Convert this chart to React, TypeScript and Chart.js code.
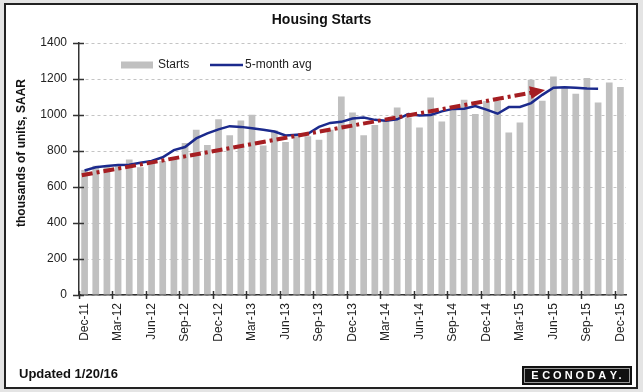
import React, { useEffect, useRef } from 'react';
import { Chart, registerables } from 'chart.js';

Chart.register(...registerables);

const months = [
  'Dec-11',
  'Jan-12', 'Feb-12', 'Mar-12', 'Apr-12', 'May-12', 'Jun-12', 'Jul-12', 'Aug-12', 'Sep-12', 'Oct-12', 'Nov-12', 'Dec-12',
  'Jan-13', 'Feb-13', 'Mar-13', 'Apr-13', 'May-13', 'Jun-13', 'Jul-13', 'Aug-13', 'Sep-13', 'Oct-13', 'Nov-13', 'Dec-13',
  'Jan-14', 'Feb-14', 'Mar-14', 'Apr-14', 'May-14', 'Jun-14', 'Jul-14', 'Aug-14', 'Sep-14', 'Oct-14', 'Nov-14', 'Dec-14',
  'Jan-15', 'Feb-15', 'Mar-15', 'Apr-15', 'May-15', 'Jun-15', 'Jul-15', 'Aug-15', 'Sep-15', 'Oct-15', 'Nov-15', 'Dec-15',
];

const starts = [
  695,
  718, 712, 718, 753, 710, 748, 745, 755, 845, 918, 834, 977,
  888, 970, 1001, 830, 915, 850, 885, 882, 862, 918, 1103, 1014,
  888, 945, 972, 1042, 986, 930, 1097, 964, 1029, 1085, 1005, 1078,
  1078, 903, 958, 1196, 1079, 1214, 1149, 1118, 1205, 1070, 1181, 1155,
];

const avg5: (number | null)[] = [
  692,
  710, 717, 722, 724, 735, 745, 765, 805, 822, 870, 898, 920,
  938, 934, 927, 918, 908, 886, 890, 895, 934, 956, 962, 980,
  986, 973, 968, 976, 1005, 997, 1000, 1020, 1034, 1035, 1050, 1030,
  1007, 1044, 1045, 1066, 1112, 1152, 1154, 1152, 1147, 1146, null, null,
];

// trend arrow: category index (fractional) and value at start and tip
const trendX = [-0.25, 41.25];
const trendY = [665, 1139];

const yTickValues = [0, 200, 400, 600, 800, 1000, 1200, 1400];

const titleText = 'Housing Starts';
const yTitleText = 'thousands of units, SAAR';
const updatedText = 'Updated 1/20/16';
const logoText = 'ECONODAY';
const legendLabels = ['Starts', '5-month avg'];

const FONT = '"Liberation Sans", Arial, sans-serif';
const BAR_COLOR = '#c0c0c0';
const LINE_COLOR = '#1b2a8d';
const TREND_COLOR = '#a51e22';
const AXIS_COLOR = '#333333';

const decorPlugin = {
  id: 'decor',
  beforeDraw(chart: any) {
    const ctx = chart.ctx;
    const W = chart.width;
    const H = chart.height;
    ctx.save();
    ctx.fillStyle = '#e4e4e4';
    ctx.fillRect(0, 0, W, H);
    ctx.fillStyle = '#ffffff';
    ctx.fillRect(5, 4, W - 11, H - 8);
    ctx.strokeStyle = '#222222';
    ctx.lineWidth = 2;
    ctx.strokeRect(5, 4, W - 11, H - 8);
    ctx.restore();
  },
  afterDatasetsDraw(chart: any) {
    const ctx = chart.ctx;
    const xs = chart.scales.x;
    const ys = chart.scales.y;
    const x0 = xs.getPixelForValue(trendX[0]);
    const y0 = ys.getPixelForValue(trendY[0]);
    const x1 = xs.getPixelForValue(trendX[1]);
    const y1 = ys.getPixelForValue(trendY[1]);
    const ang = Math.atan2(y1 - y0, x1 - x0);
    const headLen = 15;
    const headW = 6.5;
    const c = Math.cos(ang);
    const s = Math.sin(ang);
    const bx = x1 - headLen * c;
    const by = y1 - headLen * s;
    ctx.save();
    ctx.strokeStyle = TREND_COLOR;
    ctx.fillStyle = TREND_COLOR;
    ctx.lineWidth = 4;
    ctx.setLineDash([11, 4, 3, 4]);
    ctx.beginPath();
    ctx.moveTo(x0, y0);
    ctx.lineTo(bx + 1, by);
    ctx.stroke();
    ctx.setLineDash([]);
    ctx.beginPath();
    ctx.moveTo(x1, y1);
    ctx.lineTo(bx + headW * s, by - headW * c);
    ctx.lineTo(bx - headW * s, by + headW * c);
    ctx.closePath();
    ctx.fill();
    ctx.restore();
  },
  afterDraw(chart: any) {
    const ctx = chart.ctx;
    const area = chart.chartArea;
    const xs = chart.scales.x;
    const ys = chart.scales.y;
    ctx.save();
    // tick marks crossing axes
    ctx.strokeStyle = AXIS_COLOR;
    ctx.lineWidth = 1.5;
    ctx.beginPath();
    yTickValues.forEach((v) => {
      const y = Math.round(ys.getPixelForValue(v)) + 0.5;
      ctx.moveTo(area.left - 6, y);
      ctx.lineTo(area.left + 5, y);
    });
    for (let i = 0; i < months.length; i += 3) {
      const x = Math.round(xs.getPixelForValue(i - 0.5)) + 0.5;
      ctx.moveTo(x, area.bottom - 4);
      ctx.lineTo(x, area.bottom + 4);
    }
    ctx.stroke();

    // title
    ctx.fillStyle = '#111111';
    ctx.font = `bold 14px ${FONT}`;
    ctx.textAlign = 'center';
    ctx.textBaseline = 'middle';
    ctx.fillText(titleText, chart.width / 2, 20);

    // y axis title
    ctx.save();
    ctx.translate(22, 153);
    ctx.rotate(-Math.PI / 2);
    ctx.font = `bold 12px ${FONT}`;
    ctx.fillText(yTitleText, 0, 0);
    ctx.restore();

    // updated
    ctx.textAlign = 'left';
    ctx.font = `bold 13px ${FONT}`;
    ctx.fillText(updatedText, 19, 374);

    // logo
    const lx = 522, ly = 366, lw = 110, lh = 19;
    ctx.fillStyle = '#111111';
    ctx.fillRect(lx, ly, lw, lh);
    ctx.strokeStyle = '#9a9a9a';
    ctx.lineWidth = 1;
    ctx.strokeRect(lx + 2.5, ly + 2.5, lw - 5, lh - 5);
    ctx.fillStyle = '#ffffff';
    ctx.font = `bold 11px ${FONT}`;
    ctx.textAlign = 'center';
    const step = 11.2;
    let lastX = 0;
    for (let k = 0; k < logoText.length; k++) {
      lastX = lx + 13 + k * step;
      ctx.fillText(logoText[k], lastX, ly + lh / 2 + 0.5);
    }
    ctx.textAlign = 'left';
    ctx.fillText('.', lastX + 5, ly + lh / 2 + 0.5);

    // legend
    const legY = area.top + 22;
    const bx0 = area.left + 42;
    ctx.fillStyle = BAR_COLOR;
    ctx.fillRect(bx0, legY - 3.5, 32, 7);
    ctx.fillStyle = '#222222';
    ctx.font = `12px ${FONT}`;
    ctx.textAlign = 'left';
    ctx.textBaseline = 'middle';
    ctx.fillText(legendLabels[0], bx0 + 37, legY);
    const lx0 = area.left + 131;
    ctx.strokeStyle = LINE_COLOR;
    ctx.lineWidth = 2.5;
    ctx.beginPath();
    ctx.moveTo(lx0, legY);
    ctx.lineTo(lx0 + 33, legY);
    ctx.stroke();
    ctx.fillText(legendLabels[1], lx0 + 35, legY);
    ctx.restore();
  },
};

export default function App() {
  const ref = useRef<HTMLCanvasElement | null>(null);
  useEffect(() => {
    if (!ref.current) return;
    const chart = new Chart(ref.current, {
      type: 'bar',
      data: {
        labels: months,
        datasets: [
          {
            type: 'line',
            label: legendLabels[1],
            data: avg5,
            borderColor: LINE_COLOR,
            borderWidth: 2.5,
            pointRadius: 0,
            tension: 0,
            fill: false,
            order: 0,
          } as any,
          {
            type: 'bar',
            label: legendLabels[0],
            data: starts,
            backgroundColor: BAR_COLOR,
            barPercentage: 0.6,
            categoryPercentage: 1,
            order: 1,
          },
        ],
      },
      options: {
        responsive: false,
        animation: false,
        devicePixelRatio: 1,
        layout: { padding: { left: 0, right: 17, top: 43, bottom: 0 } },
        plugins: {
          legend: { display: false },
          title: { display: false },
          tooltip: { enabled: false },
        },
        scales: {
          x: {
            offset: true,
            grid: { display: false, drawTicks: false },
            border: { display: true, color: AXIS_COLOR, width: 1.5 },
            ticks: {
              autoSkip: false,
              maxRotation: 90,
              minRotation: 90,
              padding: 8,
              color: '#222222',
              font: { family: FONT, size: 12 },
              callback: (_v: any, idx: number) => (idx % 3 === 0 ? months[idx] : ''),
            },
            afterFit: (scale: any) => {
              scale.height = 97;
            },
          },
          y: {
            min: 0,
            max: 1400,
            grid: { color: '#c4c4c4', lineWidth: 1, drawTicks: false },
            border: { display: true, color: AXIS_COLOR, width: 1.5, dash: [3, 3] },
            ticks: {
              stepSize: 200,
              padding: 12,
              color: '#222222',
              font: { family: FONT, size: 12 },
              callback: (v: any) => String(v),
            },
            afterFit: (scale: any) => {
              scale.width = 79;
            },
          },
        },
      },
      plugins: [decorPlugin],
    });
    return () => chart.destroy();
  }, []);
  return (
    <div style={{ position: 'absolute', left: 0, top: 0, width: 643, height: 392 }}>
      <canvas ref={ref} width={643} height={392} />
    </div>
  );
}
